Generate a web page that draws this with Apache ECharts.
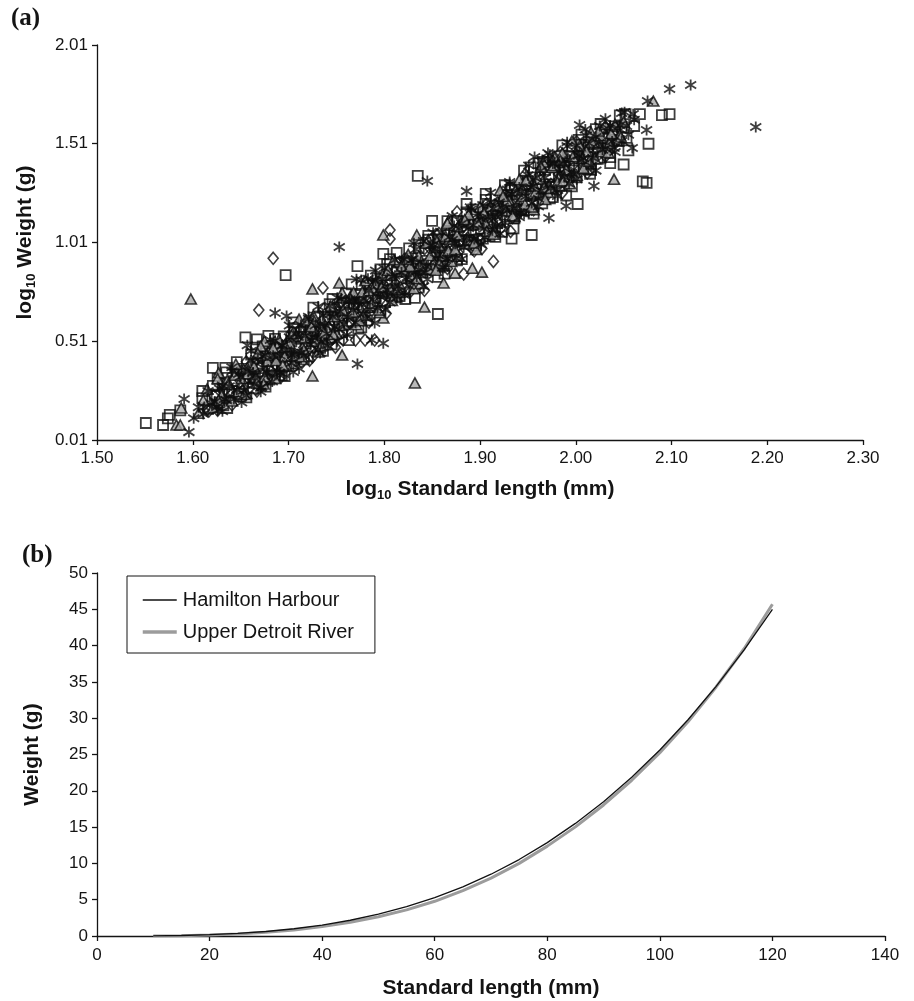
<!DOCTYPE html>
<html>
<head>
<meta charset="utf-8">
<script src="https://cdn.jsdelivr.net/npm/echarts@6/dist/echarts.min.js"></script>
<style>html,body{margin:0;padding:0;background:#fff}#c{width:914px;height:1001px}</style>
</head>
<body>
<div id="c"></div>
<script>
// ---------- Panel (a): log10 weight vs log10 standard length ----------
const aXTicks = [1.50, 1.60, 1.70, 1.80, 1.90, 2.00, 2.10, 2.20, 2.30];
const aYTicks = [0.01, 0.51, 1.01, 1.51, 2.01];

// open squares
const squarePts = [
[1.551,0.096],[1.569,0.086],[1.574,0.120],[1.576,0.137],[1.587,0.160],[1.610,0.258],[1.621,0.375],[1.634,0.375],[1.655,0.530],[1.667,0.520],[1.679,0.537],[1.697,0.845],[1.763,0.516],[1.772,0.890],[1.799,0.952],[1.813,0.957],[1.832,0.730],[1.856,0.648],[1.835,1.347],[1.886,1.205],[1.850,1.120],[1.933,1.030],[1.954,1.048],[2.002,1.205],[2.050,1.405],[2.070,1.320],[2.074,1.312],[2.076,1.510],[2.090,1.655],[2.098,1.660],[2.067,1.660],
[1.610,0.222],[1.616,0.168],[1.621,0.284],[1.625,0.240],[1.632,0.186],[1.635,0.352],[1.641,0.258],[1.646,0.344],[1.650,0.230],[1.656,0.346],[1.661,0.442],[1.665,0.318],[1.672,0.374],[1.676,0.450],[1.680,0.316],[1.686,0.452],[1.691,0.428],[1.695,0.534],[1.702,0.420],[1.705,0.606],[1.711,0.472],[1.716,0.558],[1.720,0.434],[1.726,0.560],[1.731,0.636],[1.735,0.522],[1.742,0.618],[1.745,0.494],[1.751,0.680],[1.756,0.626],[1.760,0.752],[1.766,0.608],[1.771,0.694],[1.775,0.750],[1.782,0.616],[1.785,0.802],[1.791,0.728],[1.796,0.874],[1.800,0.710],[1.806,0.816],[1.811,0.772],[1.815,0.908],[1.822,0.724],[1.825,0.900],[1.831,0.876],[1.836,0.982],[1.840,0.858],[1.846,1.044],[1.851,0.910],[1.855,0.986],[1.862,0.892],[1.866,1.048],[1.870,0.994],[1.876,1.120],[1.881,0.926],[1.885,1.072],[1.892,1.008],[1.895,1.154],[1.901,1.080],[1.906,1.226],[1.910,1.042],[1.916,1.198],[1.921,1.124],[1.925,1.190],[1.932,1.276],[1.935,1.082],[1.941,1.258],[1.946,1.174],[1.950,1.320],[1.956,1.256],[1.961,1.412],[1.965,1.208],[1.972,1.344],[1.975,1.290],[1.981,1.446],[1.986,1.342],[1.990,1.248],[1.996,1.444],[2.001,1.340],[2.005,1.506],[2.012,1.442],[2.015,1.358],[2.021,1.584],[2.026,1.440],[2.030,1.536],[2.036,1.442],[2.041,1.598],[2.045,1.524],[2.052,1.660],[2.055,1.476],[2.061,1.600],
[1.653,0.360],[1.663,0.272],[1.673,0.484],[1.683,0.426],[1.693,0.338],[1.703,0.530],[1.713,0.442],[1.723,0.564],[1.733,0.476],[1.743,0.698],[1.753,0.590],[1.763,0.682],[1.773,0.574],[1.783,0.796],[1.793,0.768],[1.803,0.900],[1.813,0.732],[1.823,0.904],[1.833,0.836],[1.843,1.008],[1.853,0.960],[1.863,0.852],[1.873,1.074],[1.883,1.016],[1.893,1.178],[1.903,1.030],[1.913,1.172],[1.923,1.064],[1.933,1.286],[1.943,1.178],[1.953,1.390],[1.963,1.282],[1.973,1.234],[1.983,1.416],[1.993,1.398],[2.003,1.530],[2.013,1.382],[2.023,1.514],
[1.623,0.234],[1.628,0.200],[1.633,0.296],[1.638,0.252],[1.643,0.308],[1.648,0.244],[1.653,0.370],[1.658,0.326],[1.663,0.302],[1.668,0.398],[1.673,0.304],[1.678,0.410],[1.683,0.386],[1.688,0.492],[1.693,0.388],[1.698,0.464],[1.703,0.510],[1.708,0.426],[1.713,0.532],[1.718,0.498],[1.723,0.594],[1.728,0.510],[1.733,0.566],[1.738,0.632],[1.743,0.528],[1.748,0.644],[1.753,0.620],[1.758,0.706],[1.763,0.612],[1.768,0.698],[1.773,0.744],[1.778,0.680],[1.783,0.736],[1.788,0.682],[1.793,0.828],[1.798,0.754],[1.803,0.820],[1.808,0.736],[1.813,0.862],[1.818,0.828],[1.823,0.914],[1.828,0.830],[1.833,0.906],[1.838,0.872],[1.843,0.968],[1.848,0.874],[1.853,0.960],[1.858,1.026],[1.863,0.962],[1.868,0.948],[1.873,1.044],[1.878,1.020],[1.883,1.116],[1.888,1.022],[1.893,1.098],[1.898,1.024],[1.903,1.160],[1.908,1.126],[1.913,1.182],[1.918,1.108],[1.923,1.184],[1.928,1.250],[1.933,1.176],[1.938,1.252],[1.943,1.178],[1.948,1.304],[1.953,1.250],[1.958,1.306],[1.963,1.252],[1.968,1.378],[1.973,1.304],[1.978,1.390],[1.983,1.296],[1.988,1.392],[1.993,1.448],[1.998,1.374],[2.003,1.450],[2.008,1.386],[2.013,1.492],[2.018,1.458],[2.023,1.434],[2.028,1.540],[2.033,1.486],[2.038,1.582],[2.043,1.528],[2.048,1.594],[2.053,1.540],
[1.626,0.320],[1.636,0.172],[1.646,0.404],[1.656,0.226],[1.666,0.478],[1.676,0.280],[1.686,0.522],[1.696,0.334],[1.706,0.576],[1.716,0.418],[1.726,0.680],[1.736,0.462],[1.746,0.724],[1.756,0.556],[1.766,0.798],[1.776,0.580],[1.786,0.842],[1.796,0.664],[1.806,0.926],[1.816,0.738],[1.826,0.980],[1.836,0.782],[1.846,1.024],[1.856,0.836],[1.866,1.118],[1.876,0.920],[1.886,1.162],[1.896,0.994],[1.906,1.256],[1.916,1.038],[1.926,1.300],[1.936,1.132],[1.946,1.374],[1.956,1.156],[1.966,1.418],[1.976,1.240],[1.986,1.502],[1.996,1.294],[2.006,1.556],[2.016,1.378],[2.026,1.610],[2.036,1.412],[2.046,1.654]
];

// open diamonds
const diamondPts = [
[1.684,0.930],[1.669,0.668],[1.725,0.430],[1.736,0.780],[1.749,0.480],[1.770,0.516],[1.780,0.516],[1.790,0.516],[1.806,1.073],[1.806,1.028],[1.914,0.914],[1.883,0.850],[1.876,1.165],[1.615,0.162],
[1.617,0.158],[1.622,0.234],[1.626,0.160],[1.631,0.296],[1.637,0.252],[1.641,0.188],[1.647,0.324],[1.652,0.260],[1.656,0.406],[1.662,0.322],[1.667,0.258],[1.671,0.384],[1.677,0.330],[1.682,0.466],[1.686,0.392],[1.692,0.328],[1.697,0.494],[1.701,0.460],[1.707,0.406],[1.712,0.572],[1.716,0.478],[1.722,0.414],[1.727,0.570],[1.731,0.506],[1.737,0.672],[1.742,0.578],[1.746,0.524],[1.752,0.660],[1.757,0.516],[1.761,0.662],[1.767,0.738],[1.772,0.624],[1.776,0.680],[1.782,0.806],[1.787,0.642],[1.791,0.768],[1.797,0.724],[1.802,0.650],[1.806,0.846],[1.812,0.802],[1.817,0.758],[1.821,0.924],[1.827,0.760],[1.832,0.906],[1.836,0.862],[1.842,0.768],[1.847,0.984],[1.851,0.890],[1.857,1.056],[1.862,0.972],[1.866,0.878],[1.872,1.044],[1.877,0.960],[1.881,1.106],[1.887,1.032],[1.892,0.978],[1.896,1.104],[1.902,0.980],[1.907,1.206],[1.911,1.092],[1.917,1.158],[1.922,1.084],[1.926,1.230],[1.932,1.066],[1.937,1.242],[1.941,1.178],[1.947,1.354],[1.952,1.250],[1.956,1.176],[1.962,1.352],[1.967,1.278],[1.971,1.254],[1.977,1.420],[1.982,1.356],[1.986,1.262],[1.992,1.428],[1.997,1.354],[2.001,1.520],[2.007,1.416],[2.012,1.362],[2.016,1.498],[2.022,1.444],[2.027,1.570],[2.031,1.446],[2.037,1.542],[2.042,1.518],
[1.664,0.402],[1.674,0.294],[1.684,0.416],[1.694,0.388],[1.704,0.560],[1.714,0.402],[1.724,0.574],[1.734,0.536],[1.744,0.518],[1.754,0.700],[1.764,0.602],[1.774,0.724],[1.784,0.606],[1.794,0.808],[1.804,0.770],[1.814,0.902],[1.824,0.764],[1.834,0.906],[1.844,0.878],[1.854,1.050],[1.864,0.912],[1.874,1.004],[1.884,1.116],[1.894,0.968],[1.904,1.150],[1.914,1.102],[1.924,1.264],[1.934,1.136],[1.944,1.268],[1.954,1.180],[1.964,1.382],[1.974,1.304],[1.984,1.466],[1.994,1.328],[2.004,1.470],
[1.632,0.256],[1.642,0.248],[1.652,0.350],[1.662,0.332],[1.672,0.424],[1.682,0.356],[1.692,0.458],[1.702,0.440],[1.712,0.562],[1.722,0.474],[1.732,0.586],[1.742,0.578],[1.752,0.670],[1.762,0.592],[1.772,0.704],[1.782,0.686],[1.792,0.808],[1.802,0.780],[1.812,0.762],[1.822,0.884],[1.832,0.856],[1.842,0.978],[1.852,0.900],[1.862,1.002],[1.872,0.994],[1.882,1.086],[1.892,1.018],[1.902,1.120],[1.912,1.112],[1.922,1.224],[1.932,1.196],[1.942,1.188],[1.952,1.300],[1.962,1.282],[1.972,1.394],[1.982,1.326],[1.992,1.418],[2.002,1.370],[2.012,1.502],[2.022,1.484],[2.032,1.546]
];

// grey filled triangles
const trianglePts = [
[1.583,0.086],[1.587,0.086],[1.588,0.172],[1.598,0.724],[1.725,0.775],[1.725,0.334],[1.753,0.805],[1.756,0.440],[1.799,1.048],[1.832,0.299],[1.842,0.683],[1.862,0.805],[1.874,0.855],[1.892,0.880],[1.902,0.860],[2.040,1.330],[2.081,1.726],[1.627,0.350],[1.675,0.510],[1.834,1.048],[1.867,1.120],[1.799,0.628],
[1.606,0.146],[1.611,0.212],[1.615,0.268],[1.621,0.174],[1.626,0.320],[1.630,0.236],[1.636,0.312],[1.641,0.208],[1.645,0.394],[1.651,0.320],[1.656,0.246],[1.660,0.402],[1.666,0.328],[1.671,0.484],[1.675,0.330],[1.681,0.446],[1.686,0.322],[1.690,0.518],[1.696,0.434],[1.701,0.500],[1.705,0.396],[1.711,0.622],[1.716,0.468],[1.720,0.544],[1.726,0.640],[1.731,0.456],[1.735,0.622],[1.741,0.568],[1.746,0.684],[1.750,0.550],[1.756,0.756],[1.761,0.652],[1.765,0.728],[1.771,0.594],[1.776,0.730],[1.780,0.816],[1.786,0.682],[1.791,0.798],[1.795,0.654],[1.801,0.850],[1.806,0.776],[1.810,0.922],[1.816,0.758],[1.821,0.864],[1.825,0.950],[1.831,0.776],[1.836,0.942],[1.840,0.898],[1.846,1.024],[1.851,0.880],[1.855,1.016],[1.861,0.942],[1.866,1.108],[1.870,0.914],[1.876,1.050],[1.881,1.116],[1.885,1.002],[1.891,1.108],[1.896,0.974],[1.900,1.190],[1.906,1.106],[1.911,1.192],[1.915,1.068],[1.921,1.274],[1.926,1.150],[1.930,1.226],[1.936,1.142],[1.941,1.328],[1.945,1.244],[1.951,1.330],[1.956,1.176],[1.960,1.332],[1.966,1.418],[1.971,1.264],[1.975,1.390],[1.981,1.316],[1.986,1.462],[1.990,1.378],[1.996,1.524],[2.001,1.350],[2.005,1.496],[2.011,1.472],[2.016,1.568],[2.020,1.434],[2.026,1.550],[2.031,1.606],[2.035,1.512],[2.041,1.608],[2.046,1.554],[2.050,1.620],
[1.658,0.366],[1.668,0.448],[1.678,0.410],[1.688,0.482],[1.698,0.384],[1.708,0.536],[1.718,0.618],[1.728,0.510],[1.738,0.492],[1.748,0.634],[1.758,0.596],[1.768,0.758],[1.778,0.640],[1.788,0.772],[1.798,0.844],[1.808,0.716],[1.818,0.888],[1.828,0.840],[1.838,0.802],[1.848,0.944],[1.858,0.906],[1.868,1.028],[1.878,0.940],[1.888,1.152],[1.898,1.104],[1.908,1.056],[1.918,1.218],[1.928,1.220],[1.938,1.192],[1.948,1.324],[1.958,1.266],[1.968,1.228],[1.978,1.440],[1.988,1.342],[1.998,1.434],[2.008,1.386],
[1.627,0.210],[1.637,0.292],[1.647,0.254],[1.657,0.346],[1.667,0.298],[1.677,0.440],[1.687,0.412],[1.697,0.484],[1.707,0.436],[1.717,0.528],[1.727,0.610],[1.737,0.552],[1.747,0.544],[1.757,0.666],[1.767,0.658],[1.777,0.760],[1.787,0.702],[1.797,0.784],[1.807,0.846],[1.817,0.788],[1.827,0.890],[1.837,0.892],[1.847,0.874],[1.857,0.996],[1.867,0.968],[1.877,1.090],[1.887,1.022],[1.897,1.114],[1.907,1.066],[1.917,1.198],[1.927,1.170],[1.937,1.272],[1.947,1.204],[1.957,1.296],[1.967,1.288],[1.977,1.400],[1.987,1.322],[1.997,1.444],[2.007,1.436],[2.017,1.518],[2.027,1.470],[2.037,1.562],[2.047,1.544],
[1.644,0.338],[1.654,0.240],[1.664,0.382],[1.674,0.294],[1.684,0.476],[1.694,0.388],[1.704,0.550],[1.714,0.432],[1.724,0.584],[1.734,0.486],[1.744,0.688],[1.754,0.590],[1.764,0.732],[1.774,0.614],[1.784,0.766],[1.794,0.668],[1.804,0.870],[1.814,0.772],[1.824,0.924],[1.834,0.826],[1.844,1.008],[1.854,0.870],[1.864,1.042],[1.874,0.974],[1.884,1.126],[1.894,1.008],[1.904,1.160],[1.914,1.052],[1.924,1.244],[1.934,1.146],[1.944,1.278],[1.954,1.190],[1.964,1.392],[1.974,1.284],[1.984,1.426],[1.994,1.308],[2.004,1.500],[2.014,1.422],[2.024,1.574],[2.034,1.466]
];

// asterisks
const asteriskPts = [
[1.591,0.218],[1.596,0.050],[1.686,0.653],[1.698,0.638],[1.753,0.987],[1.772,0.395],[1.799,0.500],[1.845,1.321],[1.886,1.270],[1.972,1.134],[2.019,1.296],[1.990,1.195],[2.004,1.605],[2.048,1.666],[2.075,1.726],[2.098,1.787],[2.120,1.807],[2.188,1.595],[1.957,1.443],[1.971,1.463],[2.059,1.488],[2.074,1.580],[2.060,1.660],[1.612,0.177],[1.625,0.177],[1.672,0.278],[1.657,0.490],[1.733,0.450],[1.705,0.354],[1.691,0.350],[1.790,0.602],[1.787,0.516],
[1.601,0.120],[1.606,0.176],[1.611,0.142],[1.616,0.258],[1.620,0.194],[1.626,0.160],[1.631,0.286],[1.635,0.212],[1.641,0.358],[1.646,0.264],[1.650,0.330],[1.656,0.236],[1.661,0.412],[1.665,0.338],[1.671,0.274],[1.676,0.440],[1.680,0.346],[1.686,0.512],[1.691,0.438],[1.695,0.344],[1.701,0.530],[1.706,0.446],[1.710,0.532],[1.716,0.438],[1.721,0.634],[1.725,0.530],[1.731,0.466],[1.736,0.642],[1.740,0.548],[1.746,0.634],[1.751,0.510],[1.755,0.726],[1.761,0.632],[1.766,0.718],[1.770,0.604],[1.776,0.820],[1.781,0.716],[1.785,0.672],[1.791,0.818],[1.796,0.734],[1.800,0.880],[1.806,0.706],[1.811,0.842],[1.815,0.788],[1.821,0.924],[1.826,0.790],[1.830,0.926],[1.836,0.872],[1.841,1.018],[1.845,0.824],[1.851,1.000],[1.856,0.946],[1.860,1.062],[1.866,0.928],[1.871,1.024],[1.875,0.930],[1.881,1.106],[1.886,1.032],[1.890,1.188],[1.896,1.034],[1.901,1.130],[1.905,1.036],[1.911,1.212],[1.916,1.148],[1.920,1.214],[1.926,1.110],[1.931,1.306],[1.935,1.182],[1.941,1.288],[1.946,1.154],[1.950,1.350],[1.956,1.296],[1.961,1.232],[1.965,1.428],[1.971,1.304],[1.976,1.410],[1.980,1.276],[1.986,1.412],[1.991,1.498],[1.995,1.364],[2.001,1.500],[2.006,1.426],[2.010,1.582],[2.016,1.398],[2.021,1.544],[2.025,1.600],[2.031,1.486],[2.036,1.602],[2.040,1.488],[2.046,1.604],[2.051,1.670],[2.055,1.556],[2.061,1.632],
[1.653,0.260],[1.663,0.352],[1.673,0.434],[1.683,0.306],[1.693,0.488],[1.703,0.400],[1.713,0.592],[1.723,0.494],[1.733,0.596],[1.743,0.688],[1.753,0.570],[1.763,0.712],[1.773,0.704],[1.783,0.826],[1.793,0.678],[1.803,0.770],[1.813,0.732],[1.823,0.824],[1.833,0.976],[1.843,0.858],[1.853,0.970],[1.863,0.882],[1.873,1.094],[1.883,0.986],[1.893,1.098],[1.903,1.200],[1.913,1.072],[1.923,1.154],[1.933,1.256],[1.943,1.158],[1.953,1.290],[1.963,1.372],[1.973,1.454],[1.983,1.406],[1.993,1.308],[2.003,1.450],
[1.623,0.204],[1.628,0.270],[1.633,0.216],[1.638,0.282],[1.643,0.218],[1.648,0.344],[1.654,0.290],[1.658,0.356],[1.664,0.292],[1.668,0.418],[1.674,0.374],[1.678,0.350],[1.684,0.436],[1.688,0.362],[1.694,0.488],[1.698,0.464],[1.704,0.440],[1.708,0.546],[1.714,0.452],[1.718,0.538],[1.724,0.514],[1.728,0.590],[1.734,0.506],[1.738,0.592],[1.744,0.648],[1.748,0.584],[1.754,0.660],[1.758,0.596],[1.764,0.722],[1.768,0.668],[1.774,0.714],[1.778,0.650],[1.784,0.766],[1.788,0.722],[1.794,0.768],[1.798,0.824],[1.804,0.750],[1.808,0.836],[1.814,0.762],[1.818,0.858],[1.824,0.834],[1.828,0.920],[1.834,0.836],[1.838,0.912],[1.844,0.888],[1.848,0.994],[1.854,0.930],[1.858,0.996],[1.864,0.922],[1.868,1.038],[1.874,1.004],[1.878,1.080],[1.884,1.006],[1.888,1.082],[1.894,1.028],[1.898,1.154],[1.904,1.080],[1.908,1.136],[1.914,1.182],[1.918,1.098],[1.924,1.194],[1.928,1.170],[1.934,1.256],[1.938,1.182],[1.944,1.268],[1.948,1.244],[1.954,1.210],[1.958,1.336],[1.964,1.272],[1.968,1.338],[1.974,1.284],[1.978,1.410],[1.984,1.366],[1.988,1.342],[1.994,1.428],[1.998,1.354],[2.004,1.470],[2.008,1.436],[2.014,1.512],[2.018,1.438],[2.024,1.514],[2.028,1.480],[2.034,1.586],[2.038,1.522],[2.044,1.588],[2.048,1.524],[2.053,1.600],
[1.631,0.156],[1.641,0.378],[1.651,0.200],[1.661,0.462],[1.671,0.254],[1.681,0.516],[1.691,0.338],[1.701,0.590],[1.711,0.372],[1.721,0.624],[1.731,0.686],[1.741,0.488],[1.751,0.730],[1.761,0.542],[1.771,0.824],[1.781,0.626],[1.791,0.868],[1.801,0.670],[1.811,0.922],[1.821,0.744],[1.831,1.006],[1.841,0.788],[1.851,1.060],[1.861,0.882],[1.871,1.144],[1.881,0.926],[1.891,1.178],[1.901,1.000],[1.911,1.262],[1.921,1.054],[1.931,1.316],[1.941,1.138],[1.951,1.400],[1.961,1.192],[1.971,1.434],[1.981,1.246],[1.991,1.518],[2.001,1.330],[2.011,1.552],[2.021,1.374],[2.031,1.636],[2.041,1.468]
];

// ---------- Panel (b): predicted weight vs standard length ----------
const lengthMM = [10,15,20,25,30,35,40,45,50,55,60,65,70,75,80,85,90,95,100,105,110,115,120];
const hamiltonW = [0.02,0.07,0.18,0.35,0.62,1.00,1.51,2.17,3.01,4.04,5.28,6.77,8.51,10.53,12.86,15.51,18.50,21.86,25.62,29.79,34.39,39.46,45.00];
const detroitW  = [0.01,0.05,0.13,0.27,0.50,0.84,1.30,1.90,2.65,3.60,4.78,6.25,7.98,10.00,12.38,15.03,18.05,21.45,25.25,29.50,34.30,39.60,45.70];

const INK = '#141414';
const SANS = '"Liberation Sans", Arial, sans-serif';
const tickLbl = {color: INK, fontSize: 17, fontFamily: SANS};
const axisLine = {show: true, lineStyle: {color: INK, width: 1.3}};
const axisTick = {show: true, inside: false, length: 5, lineStyle: {color: INK, width: 1.3}};
const titleStyle = {color: INK, fontSize: 21, fontWeight: 'bold', fontFamily: SANS};
const richLog = {
  a: {fontSize: 21, fontWeight: 'bold', fontFamily: SANS, color: INK, lineHeight: 26},
  s: {fontSize: 13, fontWeight: 'bold', fontFamily: SANS, color: INK, lineHeight: 13, verticalAlign: 'bottom'}
};

const chart = echarts.init(document.getElementById('c'), null, {renderer: 'canvas'});
const asteriskPath = 'path://M5 0L5 10M1 1.8L9 8.2M1 8.2L9 1.8';
const MARK = '#0e0e0e';

chart.setOption({
  animation: false,
  backgroundColor: '#fff',
  graphic: [
    {type: 'text', left: 11, top: 6, style: {text: '(a)', font: 'bold 25px "Liberation Serif", "Times New Roman", serif', fill: INK}},
    {type: 'text', left: 22, top: 543, style: {text: '(b)', font: 'bold 25px "Liberation Serif", "Times New Roman", serif', fill: INK}}
  ],
  grid: [
    {left: 97, top: 45, width: 766, height: 395, containLabel: false},
    {left: 97, top: 573, width: 788, height: 363, containLabel: false}
  ],
  xAxis: [
    {type: 'value', gridIndex: 0, min: 1.5, max: 2.3,
     axisLine: axisLine, axisTick: Object.assign({customValues: aXTicks}, axisTick),
     axisLabel: Object.assign({customValues: aXTicks, margin: 10, formatter: v => v.toFixed(2)}, tickLbl),
     splitLine: {show: false},
     name: '{a|log}{s|10}{a| Standard length (mm)}', nameLocation: 'middle', nameGap: 36,
     nameTextStyle: {rich: richLog}},
    {type: 'value', gridIndex: 1, min: 0, max: 140, interval: 20,
     axisLine: axisLine, axisTick: axisTick,
     axisLabel: Object.assign({margin: 11}, tickLbl),
     splitLine: {show: false},
     name: 'Standard length (mm)', nameLocation: 'middle', nameGap: 42,
     nameTextStyle: titleStyle}
  ],
  yAxis: [
    {type: 'value', gridIndex: 0, min: 0.01, max: 2.01,
     axisLine: axisLine, axisTick: Object.assign({customValues: aYTicks}, axisTick),
     axisLabel: Object.assign({customValues: aYTicks, margin: 9, formatter: v => v.toFixed(2)}, tickLbl),
     splitLine: {show: false},
     name: '{a|log}{s|10}{a| Weight (g)}', nameLocation: 'middle', nameGap: 59, nameRotate: 90,
     nameTextStyle: {rich: richLog}},
    {type: 'value', gridIndex: 1, min: 0, max: 50, interval: 5,
     axisLine: axisLine, axisTick: axisTick,
     axisLabel: Object.assign({margin: 9}, tickLbl),
     splitLine: {show: false},
     name: 'Weight (g)', nameLocation: 'middle', nameGap: 54, nameRotate: 90,
     nameTextStyle: titleStyle}
  ],
  legend: {
    data: [
      {name: 'Hamilton Harbour', lineStyle: {color: '#111', width: 1.3}},
      {name: 'Upper Detroit River', lineStyle: {color: '#9c9c9c', width: 3.5}}
    ],
    orient: 'vertical', left: 127, top: 576,
    padding: [14, 21, 11, 14], itemGap: 12, itemWidth: 34, itemHeight: 14,
    borderColor: INK, borderWidth: 1, borderRadius: 0, backgroundColor: '#fff',
    textStyle: {color: INK, fontSize: 20, fontFamily: SANS, padding: [0, 0, 0, 1]}
  },
  series: [
    {type: 'scatter', name: 'squares', xAxisIndex: 0, yAxisIndex: 0, data: squarePts,
     symbol: 'rect', symbolSize: 10,
     itemStyle: {color: 'rgba(0,0,0,0)', borderColor: MARK, borderWidth: 1.8}},
    {type: 'scatter', name: 'diamonds', xAxisIndex: 0, yAxisIndex: 0, data: diamondPts,
     symbol: 'diamond', symbolSize: [10, 12],
     itemStyle: {color: 'rgba(0,0,0,0)', borderColor: MARK, borderWidth: 1.6}},
    {type: 'scatter', name: 'triangles', xAxisIndex: 0, yAxisIndex: 0, data: trianglePts,
     symbol: 'triangle', symbolSize: [11, 10],
     itemStyle: {color: '#a9a9a9', borderColor: MARK, borderWidth: 1.6}},
    {type: 'scatter', name: 'asterisks', xAxisIndex: 0, yAxisIndex: 0, data: asteriskPts,
     symbol: asteriskPath, symbolSize: 11,
     itemStyle: {color: 'rgba(0,0,0,0)', borderColor: MARK, borderWidth: 1.8}},
    {type: 'line', name: 'Upper Detroit River', xAxisIndex: 1, yAxisIndex: 1,
     data: lengthMM.map((l, i) => [l, detroitW[i]]),
     symbol: 'none', showSymbol: false,
     lineStyle: {color: '#9c9c9c', width: 3}, itemStyle: {color: '#9c9c9c', opacity: 0}},
    {type: 'line', name: 'Hamilton Harbour', xAxisIndex: 1, yAxisIndex: 1,
     data: lengthMM.map((l, i) => [l, hamiltonW[i]]),
     symbol: 'none', showSymbol: false,
     lineStyle: {color: '#111', width: 1.3}, itemStyle: {color: '#111', opacity: 0}}
  ]
});
</script>
</body>
</html>
